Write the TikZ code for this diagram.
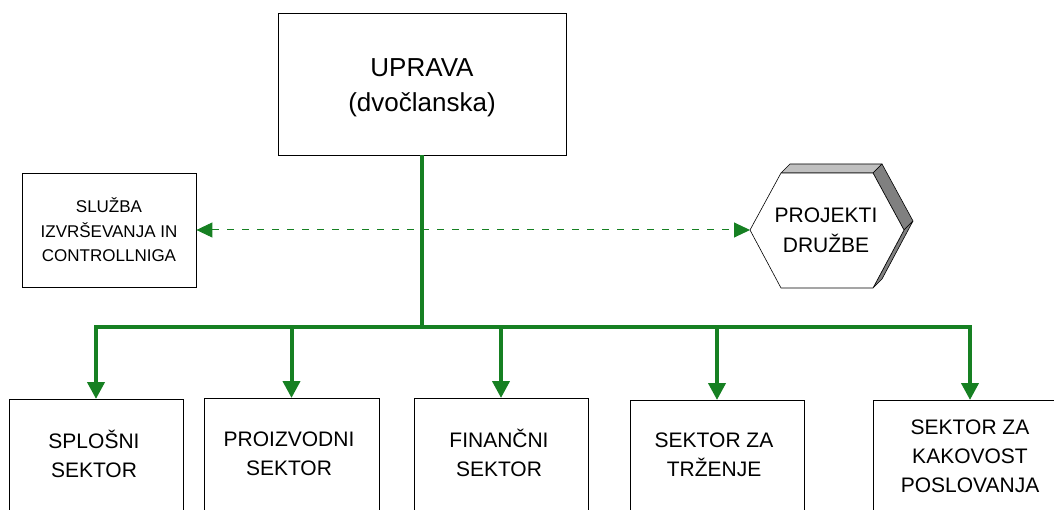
\documentclass[tikz,border=0pt]{standalone}
\usepackage{fontspec}
\setmainfont{Liberation Sans}
\usetikzlibrary{arrows.meta}
\definecolor{orgGreen}{RGB}{22,128,34}
\definecolor{bevelLight}{RGB}{192,192,192}
\definecolor{bevelDark}{RGB}{128,128,128}
\begin{document}
\begin{tikzpicture}[x=1pt,y=-1pt,
  box/.style={draw=black, line width=0.8pt, fill=white, inner sep=0pt},
  sector/.style={box, anchor=north, minimum height=121pt},
  lbl/.style={align=center, inner sep=0pt},
  seclbl/.style={lbl, font=\fontsize{21}{29}\selectfont},
  bus/.style={draw=orgGreen, line width=4pt},
  down/.style={bus, -{Triangle[length=17pt,width=17pt]}},
  link/.style={draw=orgGreen, line width=1pt, dash pattern=on 7pt off 8pt,
    {Triangle[length=16pt,width=15pt]}-{Triangle[length=16pt,width=15pt]}},
  face/.style={draw=black, line width=0.6pt, line join=round}]
\useasboundingbox (0,0) rectangle (1054,510);
\clip (0,0) rectangle (1054,510);

% top box
\node[box, minimum width=288pt, minimum height=142pt] (uprava) at (422,84) {};
\node[lbl, font=\fontsize{26}{35}\selectfont] (upravaT) at (422,88) {UPRAVA\\(dvočlanska)};

% side box
\node[box, minimum width=174pt, minimum height=114pt, lbl, font=\fontsize{17}{24.5}\selectfont]
  (sluzba) at (109,230) {SLUŽBA\\IZVRŠEVANJA IN\\CONTROLLNIGA};

% hexagon (3D)
\coordinate (projL) at (750,230);
\coordinate (hTL) at (781,173);
\coordinate (hTR) at (873,173);
\coordinate (hR) at (904,230);
\coordinate (hBR) at (873,288);
\coordinate (hBL) at (781,288);
\coordinate (bTL) at (790,164);
\coordinate (bTR) at (882,164);
\coordinate (bR) at (913,221);
\coordinate (bBR) at (882,279);
\path[face, fill=bevelLight] (hTL) -- (bTL) -- (bTR) -- (hTR) -- cycle;
\path[face, fill=bevelDark] (hTR) -- (bTR) -- (bR) -- (hR) -- cycle;
\path[face, fill=bevelDark] (hR) -- (bR) -- (bBR) -- (hBR) -- cycle;
\path[face, fill=white] (projL) -- (hTL) -- (hTR) -- (hR) -- (hBR) -- (hBL) -- cycle;
\node[lbl, font=\fontsize{21}{30}\selectfont] (projT) at (826,230) {PROJEKTI\\DRUŽBE};

% sector boxes
\node[sector, minimum width=174pt] (s1) at (96,399) {};
\node[sector, minimum width=175pt] (s2) at (291.5,398) {};
\node[sector, minimum width=174pt] (s3) at (501,398) {};
\node[sector, minimum width=174pt] (s4) at (717,400) {};
\node[sector, minimum width=194pt] (s5) at (970,400) {};
\node[seclbl] (t1) at (94,454) {SPLOŠNI\\SEKTOR};
\node[seclbl] (t2) at (289,454) {PROIZVODNI\\SEKTOR};
\node[seclbl] (t3) at (499,453) {FINANČNI\\SEKTOR};
\node[seclbl] (t4) at (714,455) {SEKTOR ZA\\TRŽENJE};
\node[seclbl] (t5) at (970,456) {SEKTOR ZA\\KAKOVOST\\POSLOVANJA};

% connectors
\coordinate (busY) at (0,327);
\coordinate (busL) at (s1.north |- busY);
\coordinate (busR) at (s5.north |- busY);
\draw[bus] (uprava.south) -- (uprava.south |- busY);
\draw[bus, line cap=rect] (busL) -- (busR);
\draw[down] (busL) -- (s1.north);
\draw[down] (s2.north |- busY) -- (s2.north);
\draw[down] (s3.north |- busY) -- (s3.north);
\draw[down] (s4.north |- busY) -- (s4.north);
\draw[down] (busR) -- (s5.north);
\draw[link] (sluzba.east) -- (projL);
\end{tikzpicture}
\end{document}
